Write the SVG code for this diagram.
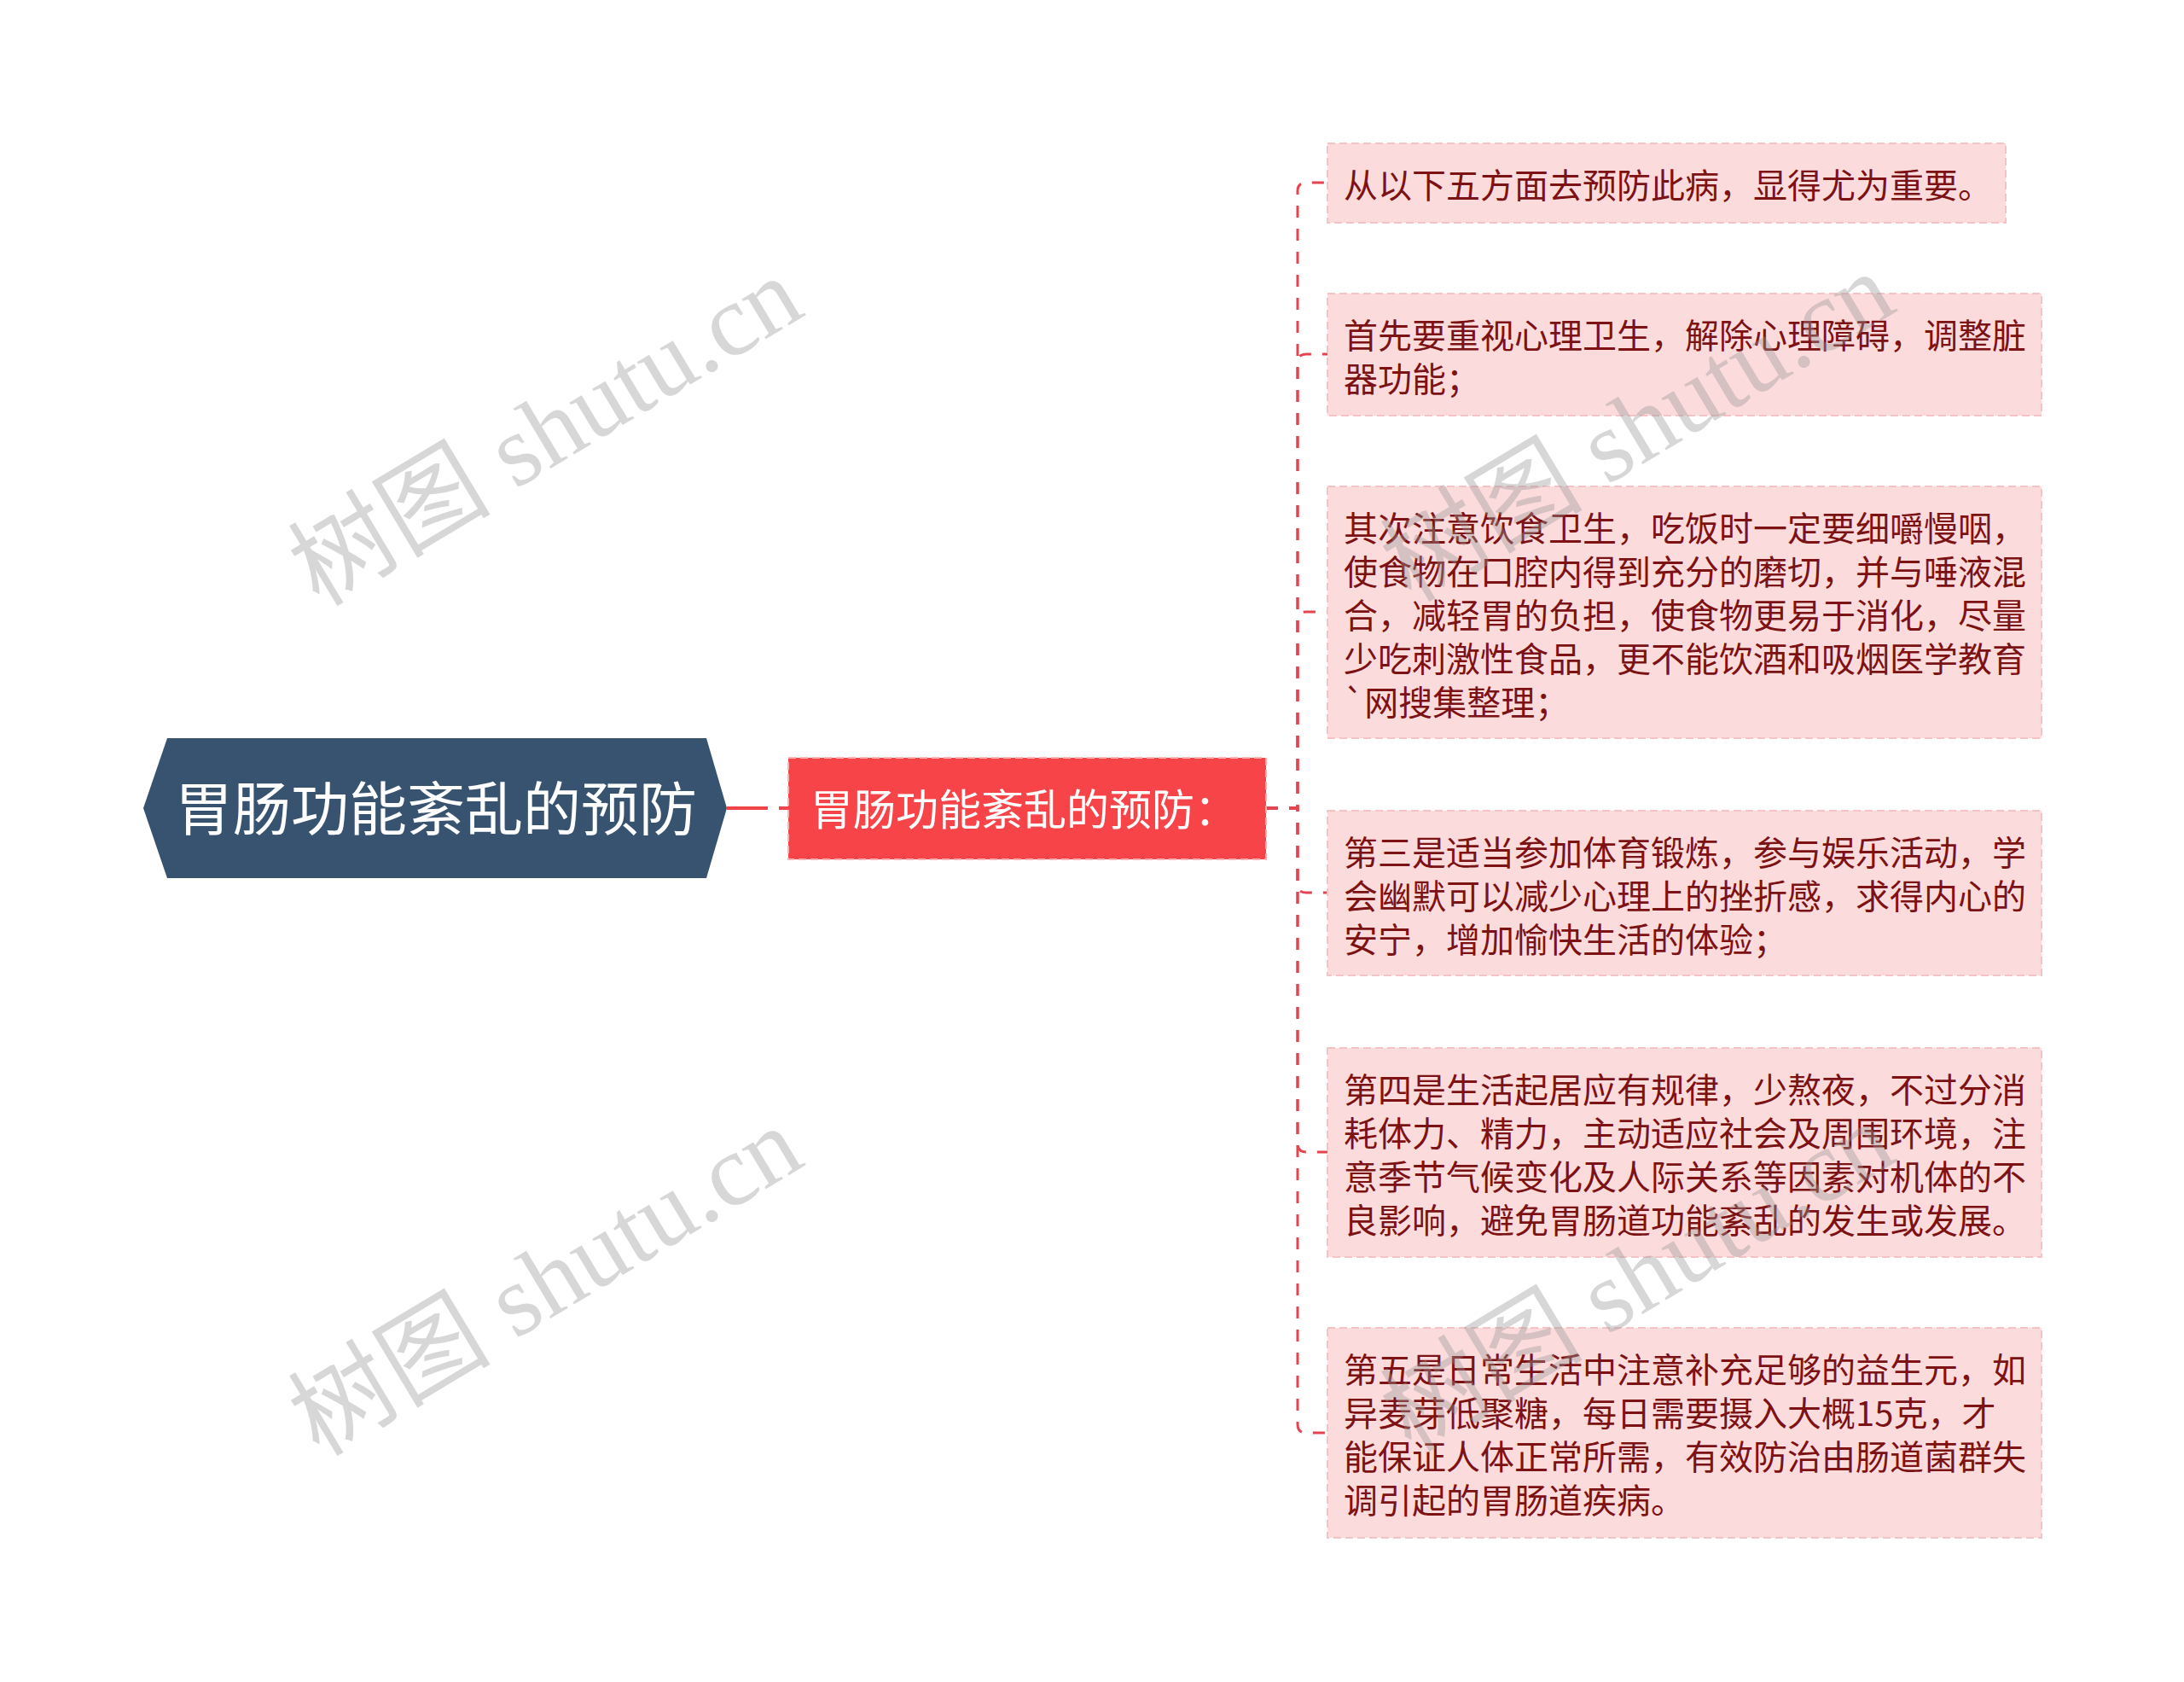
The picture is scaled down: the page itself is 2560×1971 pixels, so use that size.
<svg xmlns="http://www.w3.org/2000/svg" width="2560" height="1971" viewBox="0 0 2560 1971">
<style>
.leaf rect{fill:#fcdbdc;stroke:#f3c3c6;stroke-width:2;stroke-dasharray:9 5}
.leaf text{font-family:"Noto Sans CJK SC","Noto Sans",sans-serif;font-size:40px;fill:#7d1214}
.conn{fill:none;stroke:#e3444f;stroke-width:3;stroke-dasharray:14 13}
.wm{font-family:"Liberation Serif","Noto Sans CJK SC",serif;font-size:119px;fill:#969696;fill-opacity:0.38}
</style>
<rect width="2560" height="1971" fill="#ffffff"/>
<g id="connectors">
<line x1="852" y1="947" x2="924" y2="947" stroke="#f04449" stroke-width="4" stroke-dasharray="48 13"/>
<path class="conn" d="M1484 947 H1521 V224 Q1521 214 1531 214 H1556"/>
<path class="conn" d="M1484 947 H1521 V425 Q1521 415 1531 415 H1556"/>
<path class="conn" d="M1484 947 H1521 V727 Q1521 717 1531 717 H1556"/>
<path class="conn" d="M1484 947 H1521 V1036 Q1521 1046 1531 1046 H1556"/>
<path class="conn" d="M1484 947 H1521 V1340 Q1521 1350 1531 1350 H1556"/>
<path class="conn" d="M1484 947 H1521 V1669 Q1521 1679 1531 1679 H1556"/>
</g>
<g id="root">
<polygon points="168,947 196,865 828,865 852,947 828,1029 196,1029" fill="#38536f"/>
<text x="511" y="973" text-anchor="middle" font-family="Noto Sans CJK SC,Noto Sans,sans-serif" font-size="68" fill="#ffffff">胃肠功能紊乱的预防</text>
</g>
<g id="main">
<rect x="924" y="888" width="560" height="119" fill="#f74448" stroke="#ffb0b2" stroke-width="2" stroke-dasharray="9 5"/>
<text x="950" y="967" font-family="Noto Sans CJK SC,Noto Sans,sans-serif" font-size="50" fill="#ffffff">胃肠功能紊乱的预防：</text>
</g>
<g id="leaf1" class="leaf">
<rect x="1556" y="168" width="795" height="93"/>
<text x="1575" y="232">从以下五方面去预防此病，显得尤为重要。</text>
</g>
<g id="leaf2" class="leaf">
<rect x="1556" y="344" width="837" height="143"/>
<text x="1575" y="408">首先要重视心理卫生，解除心理障碍，调整脏</text>
<text x="1575" y="459">器功能；</text>
</g>
<g id="leaf3" class="leaf">
<rect x="1556" y="570" width="837" height="295"/>
<text x="1575" y="634">其次注意饮食卫生，吃饭时一定要细嚼慢咽，</text>
<text x="1575" y="685">使食物在口腔内得到充分的磨切，并与唾液混</text>
<text x="1575" y="736">合，减轻胃的负担，使食物更易于消化，尽量</text>
<text x="1575" y="787">少吃刺激性食品，更不能饮酒和吸烟医学教育</text>
<text x="1575" y="838">`网搜集整理；</text>
</g>
<g id="leaf4" class="leaf">
<rect x="1556" y="950" width="837" height="193"/>
<text x="1575" y="1014">第三是适当参加体育锻炼，参与娱乐活动，学</text>
<text x="1575" y="1065">会幽默可以减少心理上的挫折感，求得内心的</text>
<text x="1575" y="1116">安宁，增加愉快生活的体验；</text>
</g>
<g id="leaf5" class="leaf">
<rect x="1556" y="1228" width="837" height="245"/>
<text x="1575" y="1292">第四是生活起居应有规律，少熬夜，不过分消</text>
<text x="1575" y="1343">耗体力、精力，主动适应社会及周围环境，注</text>
<text x="1575" y="1394">意季节气候变化及人际关系等因素对机体的不</text>
<text x="1575" y="1445">良影响，避免胃肠道功能紊乱的发生或发展。</text>
</g>
<g id="leaf6" class="leaf">
<rect x="1556" y="1556" width="837" height="246"/>
<text x="1575" y="1620">第五是日常生活中注意补充足够的益生元，如</text>
<text x="1575" y="1671">异麦芽低聚糖，每日需要摄入大概15克，才</text>
<text x="1575" y="1722">能保证人体正常所需，有效防治由肠道菌群失</text>
<text x="1575" y="1773">调引起的胃肠道疾病。</text>
</g>
<g id="watermarks">
<text class="wm" transform="translate(374,712) rotate(-31)">树图 shutu.cn</text>
<text class="wm" transform="translate(374,1708) rotate(-31)">树图 shutu.cn</text>
<text class="wm" transform="translate(1654,707) rotate(-31)">树图 shutu.cn</text>
<text class="wm" transform="translate(1654,1703) rotate(-31)">树图 shutu.cn</text>
</g>
</svg>
